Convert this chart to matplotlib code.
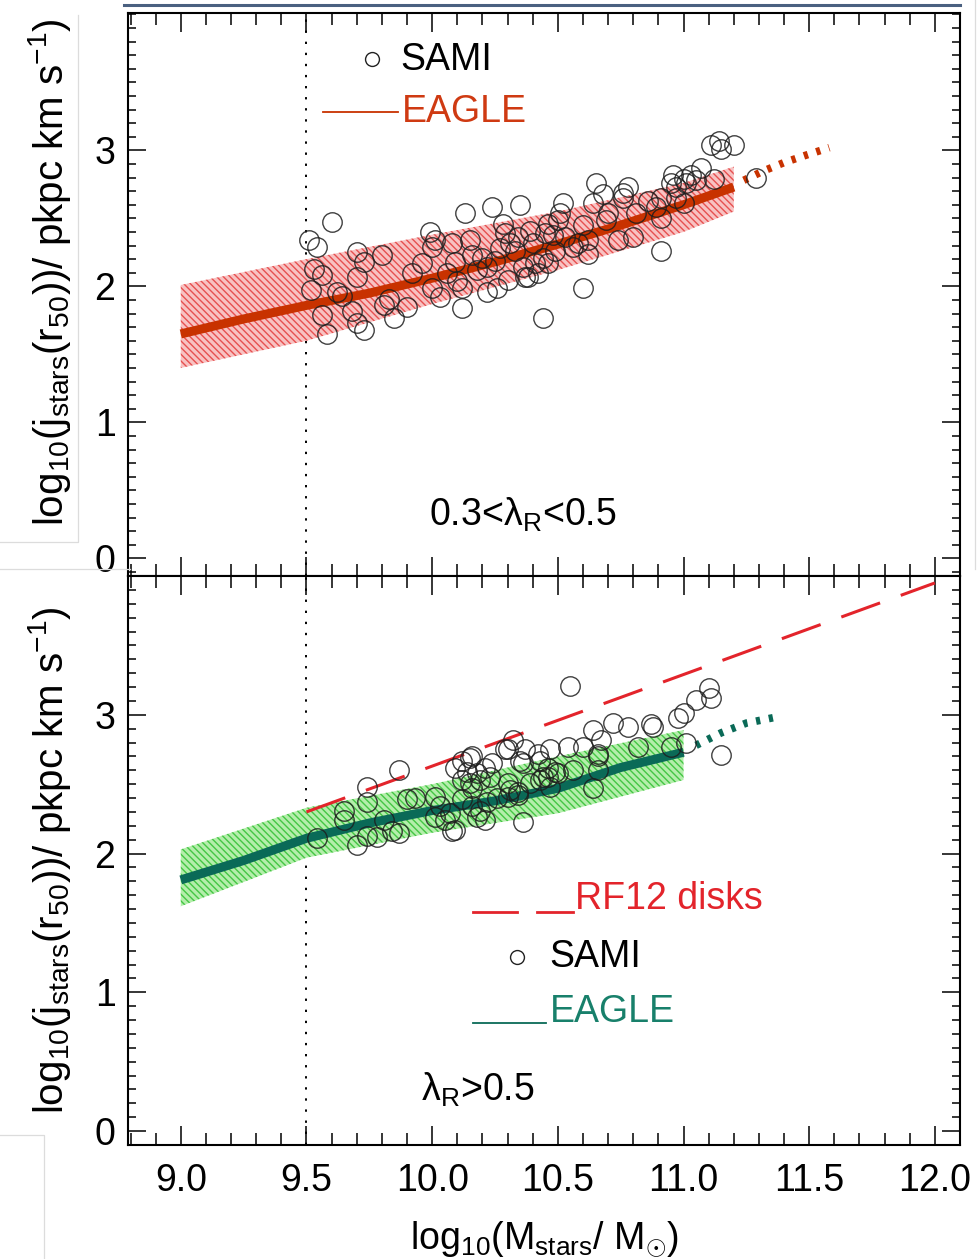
import numpy as np
import matplotlib
matplotlib.use("Agg")
import matplotlib.pyplot as plt
from matplotlib.lines import Line2D
from matplotlib.ticker import MultipleLocator, FixedLocator

plt.rcParams['font.family'] = ['Liberation Sans', 'DejaVu Sans']
plt.rcParams['mathtext.fontset'] = 'custom'
plt.rcParams['mathtext.rm'] = 'Liberation Sans'
plt.rcParams['mathtext.it'] = 'Liberation Sans:italic'
plt.rcParams['mathtext.bf'] = 'Liberation Sans:bold'
plt.rcParams['hatch.linewidth'] = 1.0

# ---------------- 0.3 < lambda_R < 0.5 ----------------
mid_mass = [9.0, 9.25, 9.5, 9.75, 10.0, 10.25, 10.5, 10.75, 11.0, 11.2]
mid_eagle = [1.65, 1.76, 1.86, 1.95, 2.06, 2.18, 2.31, 2.45, 2.60, 2.73]
mid_ext_mass = [11.24, 11.32, 11.40, 11.48, 11.58]
mid_ext = [2.78, 2.85, 2.91, 2.96, 3.02]
mid_band_mass = [9.0, 9.5, 10.0, 10.5, 11.0, 11.2]
mid_band_hi = [2.01, 2.20, 2.38, 2.55, 2.76, 2.88]
mid_band_lo = [1.40, 1.60, 1.87, 2.12, 2.40, 2.55]

mid_sami_mass = [
    9.60, 9.51, 9.54, 9.70, 9.80, 9.73, 9.53, 9.56, 9.70, 9.52, 9.62, 9.64,
    9.56, 9.68, 9.70, 9.73, 9.58, 9.99, 10.01, 10.00, 9.96, 9.92, 9.81, 9.83,
    9.85, 9.90, 10.00, 10.03, 10.06, 10.08, 10.09, 10.10, 10.13, 10.15, 10.16,
    10.12, 10.12, 10.22, 10.26, 10.24, 10.28, 10.29, 10.31, 10.35, 10.20,
    10.18, 10.36, 10.37, 11.11, 11.14, 11.15, 11.20, 11.29, 11.07, 11.12,
    11.03, 11.00, 10.96, 10.95, 10.97, 11.01, 11.05, 10.97, 11.00, 10.91,
    10.86, 10.81, 10.89, 10.91, 10.91, 10.80, 10.74, 10.76, 10.78, 10.76,
    10.65, 10.68, 10.64, 10.70, 10.69, 10.60, 10.62, 10.58, 10.56, 10.60,
    10.44, 10.52, 10.51, 10.50, 10.46, 10.45, 10.48, 10.53, 10.39, 10.34,
    10.40, 10.49, 10.44, 10.41, 10.38, 10.42, 10.46, 10.62, 10.27, 10.33,
    10.22, 10.30, 10.25,
]
mid_sami_j = [
    2.47, 2.34, 2.29, 2.25, 2.23, 2.18, 2.13, 2.08, 2.07, 1.97, 1.96, 1.93,
    1.79, 1.82, 1.73, 1.68, 1.65, 2.40, 2.34, 2.29, 2.17, 2.10, 1.86, 1.91,
    1.77, 1.85, 1.99, 1.92, 2.10, 2.32, 2.18, 2.04, 2.54, 2.34, 2.23,
    1.84, 1.99, 1.96, 1.99, 2.58, 2.46, 2.39, 2.32, 2.60, 2.21,
    2.12, 2.14, 2.07, 3.04, 3.07, 3.01, 3.04, 2.80, 2.87, 2.79,
    2.82, 2.79, 2.82, 2.76, 2.73, 2.76, 2.78, 2.65, 2.61, 2.65,
    2.63, 2.54, 2.58, 2.50, 2.26, 2.36, 2.34, 2.69, 2.73, 2.65,
    2.76, 2.68, 2.61, 2.54, 2.49, 2.45, 2.34, 2.32, 2.29, 1.99,
    1.77, 2.61, 2.54, 2.49, 2.46, 2.39, 2.38, 2.36, 2.41, 2.36,
    2.32, 2.26, 2.21, 2.17, 2.07, 2.10, 2.17, 2.24, 2.28, 2.26,
    2.14, 2.05, 2.19,
]

# ---------------- lambda_R > 0.5 ----------------
hi_mass = [9.0, 9.25, 9.5, 9.75, 10.0, 10.25, 10.5, 10.75, 11.0]
hi_eagle = [1.81, 1.95, 2.11, 2.22, 2.31, 2.38, 2.47, 2.62, 2.73]
hi_ext_mass = [11.05, 11.15, 11.25, 11.36]
hi_ext = [2.78, 2.87, 2.94, 2.98]
hi_band_mass = [9.0, 9.5, 10.0, 10.5, 11.0]
hi_band_hi = [2.03, 2.33, 2.50, 2.70, 2.89]
hi_band_lo = [1.62, 1.97, 2.15, 2.29, 2.53]

rf12_mass = [9.5, 12.0]
rf12_j = [2.30, 3.95]

hi_sami_mass = [
    9.54, 9.65, 9.65, 9.70, 9.74, 9.74, 9.74, 9.78, 9.81, 9.84, 9.87, 9.87,
    9.90, 9.93, 10.01, 10.01, 10.08, 10.09, 10.12, 10.16, 10.14, 10.18,
    10.21, 10.23, 10.19, 10.15, 10.12, 10.24, 10.16, 10.03, 10.07, 10.12,
    10.16, 10.19, 10.22, 10.21, 10.26, 10.31, 10.30, 10.34, 10.36, 10.30,
    10.32, 10.37, 10.36, 10.42, 10.43, 10.47, 10.46, 10.46, 10.47, 10.43,
    10.50, 10.54, 10.55, 10.56, 10.60, 10.64, 10.67, 10.66, 10.66, 10.64,
    10.72, 10.78, 10.82, 10.88, 10.95, 10.98, 11.00, 11.01, 11.05, 11.10,
    11.11, 11.15, 10.09, 10.05, 10.18, 10.30, 10.34, 10.39, 10.44, 10.49,
    10.66, 10.87, 10.15, 10.29, 10.35,
]
hi_sami_j = [
    2.11, 2.31, 2.24, 2.06, 2.48, 2.37, 2.13, 2.12, 2.24, 2.16, 2.15, 2.60,
    2.39, 2.40, 2.41, 2.26, 2.16, 2.62, 2.67, 2.70, 2.59, 2.58,
    2.62, 2.55, 2.53, 2.51, 2.53, 2.65, 2.47, 2.34, 2.29, 2.39,
    2.34, 2.31, 2.37, 2.24, 2.40, 2.46, 2.41, 2.42, 2.23, 2.75,
    2.82, 2.75, 2.65, 2.72, 2.67, 2.75, 2.62, 2.55, 2.48, 2.53,
    2.58, 2.77, 3.21, 2.60, 2.77, 2.89, 2.82, 2.72, 2.60, 2.47,
    2.94, 2.91, 2.77, 2.91, 2.77, 2.98, 3.01, 2.80, 3.11, 3.19,
    3.12, 2.71, 2.17, 2.24, 2.26, 2.51, 2.44, 2.51, 2.55, 2.59,
    2.70, 2.93, 2.69, 2.75, 2.67,
]

x_ticks = [9.0, 9.5, 10.0, 10.5, 11.0, 11.5, 12.0]
x_ticklabels = ['9.0', '9.5', '10.0', '10.5', '11.0', '11.5', '12.0']
y_ticks = [0, 1, 2, 3]
mass_cut = 9.5

RED_LINE = '#c83200'
RED_TEXT = '#cf3a12'
PINK_FACE = '#f8c2c2'
PINK_HATCH = '#e65050'
TEAL_LINE = '#0a6a57'
TEAL_TEXT = '#18806b'
GREEN_FACE = '#b4eeab'
GREEN_HATCH = '#44c644'
DISK_RED = '#e3242b'

W, H = 977, 1259
fig = plt.figure(figsize=(W / 100, H / 100), dpi=100)
fig.patch.set_facecolor('white')


def px_box(left, top, right, bottom):
    return [left / W, 1 - bottom / H, (right - left) / W, (bottom - top) / H]


ax_top = fig.add_axes(px_box(128, 13, 960, 576))
ax_bot = fig.add_axes(px_box(128, 576, 960, 1145))

FS = 27
for ax in (ax_top, ax_bot):
    ax.set_xlim(8.79, 12.1)
    ax.xaxis.set_major_locator(FixedLocator(x_ticks))
    ax.xaxis.set_minor_locator(MultipleLocator(0.1))
    ax.yaxis.set_major_locator(FixedLocator(y_ticks))
    ax.yaxis.set_minor_locator(MultipleLocator(0.1))
    ax.tick_params(axis='both', which='both', direction='in',
                   top=True, right=True, width=1.1, labelsize=FS)
    ax.tick_params(axis='x', which='major', length=14, pad=13)
    ax.tick_params(axis='x', which='minor', length=8.5)
    ax.tick_params(axis='y', which='major', length=13, pad=9)
    ax.tick_params(axis='y', which='minor', length=6)
    for s in ax.spines.values():
        s.set_linewidth(1.5)
    ax.axvline(mass_cut, color='black', lw=1.4, ls=(0, (1.2, 4.5)), zorder=1)

ax_top.set_ylim(-0.13, 4.01)
ax_bot.set_ylim(-0.1, 4.0)
ax_top.tick_params(axis='x', labelbottom=False)
ax_bot.set_xticklabels(x_ticklabels)
ax_bot.set_xlabel(r'log$_{\mathrm{10}}$(M$_{\mathrm{stars}}$/ M$_{\odot}$)',
                  fontsize=FS, labelpad=15)


def draw_band(ax, xs, lo, hi, face, hatch_col):
    ax.fill_between(xs, lo, hi, facecolor=face, edgecolor='none', lw=0, zorder=2)
    ax.fill_between(xs, lo, hi, facecolor='none', edgecolor=hatch_col,
                    hatch='\\\\\\\\\\', lw=0, zorder=2)


# top panel
draw_band(ax_top, mid_band_mass, mid_band_lo, mid_band_hi, PINK_FACE, PINK_HATCH)
ax_top.plot(mid_mass, mid_eagle, color=RED_LINE, lw=6.5, solid_capstyle='butt', zorder=3)
ax_top.plot(mid_ext_mass, mid_ext, color=RED_LINE, lw=5.5, ls=(0, (0.55, 1.15)), zorder=3)
ax_top.plot(mid_sami_mass, mid_sami_j, ls='none', marker='o', ms=14, mfc='none',
            mec='#1e1e1e', mew=1.0, alpha=0.85, zorder=4)

# bottom panel
draw_band(ax_bot, hi_band_mass, hi_band_lo, hi_band_hi, GREEN_FACE, GREEN_HATCH)
ax_bot.plot(rf12_mass, rf12_j, color=DISK_RED, lw=2.2, ls=(0, (13.5, 7.2)), zorder=3)
ax_bot.plot(hi_mass, hi_eagle, color=TEAL_LINE, lw=6.5, solid_capstyle='butt', zorder=3)
ax_bot.plot(hi_ext_mass, hi_ext, color=TEAL_LINE, lw=5.5, ls=(0, (0.55, 1.15)), zorder=3)
ax_bot.plot(hi_sami_mass, hi_sami_j, ls='none', marker='o', ms=14, mfc='none',
            mec='#1e1e1e', mew=1.0, alpha=0.85, zorder=4)

# in-panel keys
T = ax_top.transAxes
ax_top.plot([0.293], [0.918], transform=T, marker='o', ms=10, mfc='none',
            mec='#222222', mew=1.0, ls='none')
ax_top.text(0.327, 0.917, 'SAMI', transform=T, fontsize=FS, color='black',
            ha='left', va='center')
ax_top.plot([0.234, 0.325], [0.824, 0.824], transform=T, color=RED_LINE, lw=1.3)
ax_top.text(0.329, 0.824, 'EAGLE', transform=T, fontsize=FS, color=RED_TEXT,
            ha='left', va='center')
ax_top.text(0.362, 0.108, r'0.3<λ$_{\mathrm{R}}$<0.5', transform=T, fontsize=FS,
            ha='left', va='center')

B = ax_bot.transAxes
ax_bot.plot([0.415, 0.468], [0.410, 0.410], transform=B, color=DISK_RED, lw=2.0)
ax_bot.plot([0.492, 0.535], [0.410, 0.410], transform=B, color=DISK_RED, lw=2.0)
ax_bot.text(0.537, 0.432, 'RF12 disks', transform=B, fontsize=FS, color=DISK_RED,
            ha='left', va='center')
ax_bot.plot([0.4675], [0.330], transform=B, marker='o', ms=10, mfc='none',
            mec='#222222', mew=1.0, ls='none')
ax_bot.text(0.507, 0.330, 'SAMI', transform=B, fontsize=FS, color='black',
            ha='left', va='center')
ax_bot.plot([0.415, 0.502], [0.215, 0.215], transform=B, color=TEAL_LINE, lw=1.3)
ax_bot.text(0.507, 0.234, 'EAGLE', transform=B, fontsize=FS, color=TEAL_TEXT,
            ha='left', va='center')
ax_bot.text(0.352, 0.097, r'λ$_{\mathrm{R}}$>0.5', transform=B, fontsize=FS,
            ha='left', va='center')

ylab = r'log$_{\mathrm{10}}$(j$_{\mathrm{stars}}$(r$_{\mathrm{50}}$))/ pkpc km s$^{\mathrm{-1}}$)'
fig.text(50 / W, 1 - 272 / H, ylab, rotation=90, fontsize=29, ha='center', va='center')
fig.text(50 / W, 1 - 860 / H, ylab, rotation=90, fontsize=29, ha='center', va='center')


# page furniture around the panels
def fig_line(xs, ys, **kw):
    fig.add_artist(Line2D([x / W for x in xs], [1 - y / H for y in ys],
                          transform=fig.transFigure, **kw))


fig_line([124, 960], [5, 5], color='#4a6080', lw=2.2)
fig_line([78, 78, 0], [15, 542, 542], color='#dcdcdc', lw=0.9)
fig_line([0, 130], [569, 569], color='#dcdcdc', lw=0.9)
fig_line([0, 44, 44], [1135, 1135, 1259], color='#dcdcdc', lw=0.9)
fig_line([975, 975], [0, 569], color='#dcdcdc', lw=0.9)

fig.savefig('out.png', dpi=100, facecolor='white')
